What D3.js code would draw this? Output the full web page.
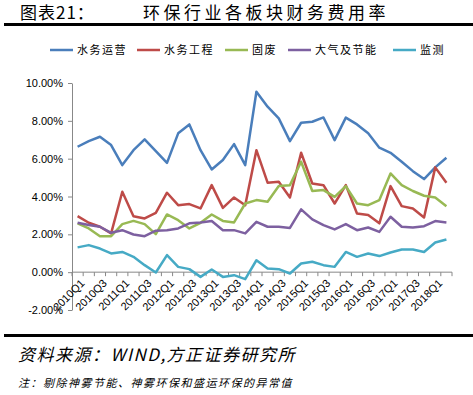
<!DOCTYPE html>
<html>
<head>
  <meta charset="utf-8">
  <title>环保行业各板块财务费用率</title>
  <style>
    body { margin: 0; background: #fff; overflow: hidden; }
    svg { display: block; }
    .cjk { font-family: "Noto Sans CJK SC", sans-serif; }
    .tick text { font-family: "Liberation Sans", Arial, sans-serif; font-size: 11px; fill: #000; }
    .tick line, .domain { stroke: #888; }
  </style>
</head>
<body>
<svg id="chart" width="473" height="395"></svg>
<script src="https://cdn.jsdelivr.net/npm/d3@7"></script>
<script>
// quarters 2010Q1 .. 2018Q2
var quarters = [];
for (var yr = 2010; yr <= 2018; yr++) {
  for (var q = 1; q <= 4; q++) {
    if (yr === 2018 && q > 2) break;
    quarters.push(yr + "Q" + q);
  }
}

var seriesNames = ["水务运营", "水务工程", "固废", "大气及节能", "监测"];
var seriesColors = ["#4a7ebb", "#be4b48", "#98b954", "#7d60a0", "#46aac5"];

// values in %
var waterOps = [6.63, 6.93, 7.16, 6.72, 5.66, 6.45, 7.02, 6.40, 5.78, 7.34, 7.81, 6.45, 5.43, 5.93, 6.77, 5.66,
                9.54, 8.75, 8.13, 6.93, 7.90, 7.95, 8.18, 6.98, 8.17, 7.81, 7.34, 6.58, 6.31, 5.84, 5.34, 4.92, 5.54, 6.05];
var waterEng = [2.96, 2.61, 2.40, 2.05, 4.25, 2.96, 2.84, 3.14, 4.20, 3.54, 3.60, 3.37, 4.60, 3.40, 3.95, 3.54,
                6.45, 4.73, 4.78, 3.95, 6.31, 4.69, 4.60, 3.63, 4.60, 3.10, 3.02, 2.58, 4.55, 3.49, 3.37, 2.89, 5.54, 4.73];
var solidWaste = [2.58, 2.31, 1.90, 1.90, 2.54, 2.71, 2.54, 2.01, 3.05, 2.75, 2.31, 2.61, 3.05, 2.71, 2.63, 3.63,
                  3.81, 3.72, 4.55, 4.60, 5.84, 4.29, 4.34, 3.98, 4.55, 3.63, 3.54, 3.81, 5.22, 4.60, 4.29, 4.04, 3.95, 3.49];
var airEnergy = [2.61, 2.49, 2.40, 2.08, 2.22, 1.99, 1.90, 2.19, 2.22, 2.31, 2.58, 2.63, 2.70, 2.22, 2.22, 2.05,
                 2.66, 2.40, 2.40, 2.34, 3.32, 2.79, 2.49, 2.26, 2.54, 2.22, 2.36, 2.13, 2.93, 2.40, 2.36, 2.43, 2.70, 2.63];
var monitoring = [1.31, 1.43, 1.25, 0.99, 1.07, 0.81, 0.37, -0.02, 0.90, 0.28, 0.16, -0.25, 0.14, -0.25, -0.16, -0.37,
                  0.63, 0.19, 0.16, -0.07, 0.46, 0.55, 0.37, 0.28, 1.07, 0.81, 0.99, 0.85, 1.04, 1.20, 1.20, 1.07, 1.57, 1.73];

var yTicks = [-2, 0, 2, 4, 6, 8, 10];
var xLabels = quarters.filter(function(d, i) { return i % 2 === 0; });

var allSeries = [waterOps, waterEng, solidWaste, airEnergy, monitoring];

var svg = d3.select("#chart");

// title and rule
svg.append("text").attr("class", "cjk")
  .attr("x", 20).attr("y", 18.5)
  .style("font-size", "17px").style("letter-spacing", "1px")
  .text("图表21：");
svg.append("text").attr("class", "cjk")
  .attr("x", 143).attr("y", 18.5)
  .style("font-size", "17px").style("letter-spacing", "3.5px")
  .text("环保行业各板块财务费用率");
svg.append("rect").attr("x", 4).attr("y", 23).attr("width", 469).attr("height", 3).attr("fill", "#000");

// scales
var x = d3.scaleBand().domain(quarters).range([72, 452]).padding(0);
var y = d3.scaleLinear().domain([-2, 10]).range([310, 83]);
var cx = function(i) { return x(quarters[i]) + x.bandwidth() / 2; };

// y axis
var yAxis = svg.append("g")
  .attr("transform", "translate(72,0)")
  .call(d3.axisLeft(y).tickValues(yTicks).tickSizeInner(4).tickSizeOuter(0)
        .tickFormat(function(d) { return d.toFixed(2) + "%"; }));
yAxis.selectAll(".tick text").attr("x", -9);

// x axis at zero, ticks on band edges
var xg = svg.append("g").attr("transform", "translate(0," + y(0) + ")");
xg.append("line").attr("class", "domain").attr("x1", 72).attr("x2", 452).attr("y1", 0).attr("y2", 0);
xg.selectAll("line.tk")
  .data(quarters.concat(["end"]))
  .enter().append("line").attr("class", "tk")
  .attr("x1", function(d, i) { return 72 + i * x.bandwidth(); })
  .attr("x2", function(d, i) { return 72 + i * x.bandwidth(); })
  .attr("y1", 0).attr("y2", 4)
  .attr("stroke", "#888");
xg.selectAll("text")
  .data(xLabels)
  .enter().append("text")
  .attr("transform", function(d) { return "translate(" + (x(d) + x.bandwidth() / 2 + 5) + ",9) rotate(-45)"; })
  .attr("text-anchor", "end")
  .attr("dy", "0.35em")
  .style("font-family", "'Liberation Sans', Arial, sans-serif")
  .style("font-size", "11px")
  .text(function(d) { return d; });

// lines
var line = d3.line()
  .x(function(d, i) { return cx(i); })
  .y(function(d) { return y(d); });

svg.append("g").selectAll("path")
  .data(allSeries)
  .enter().append("path")
  .attr("d", line)
  .attr("fill", "none")
  .attr("stroke", function(d, i) { return seriesColors[i]; })
  .attr("stroke-width", 2.5)
  .attr("stroke-linejoin", "round");

// legend
var legendX = [50, 137, 225, 288, 393];
var lg = svg.append("g").selectAll("g")
  .data(seriesNames)
  .enter().append("g")
  .attr("transform", function(d, i) { return "translate(" + legendX[i] + ",50)"; });
lg.append("line").attr("x1", 0).attr("x2", 23).attr("y1", 0).attr("y2", 0)
  .attr("stroke", function(d, i) { return seriesColors[i]; }).attr("stroke-width", 2.5);
lg.append("text").attr("class", "cjk")
  .attr("x", 27).attr("dy", "0.35em")
  .style("font-size", "11px").style("letter-spacing", "1.5px")
  .text(function(d) { return d; });

// footer
svg.append("rect").attr("x", 4).attr("y", 334).attr("width", 469).attr("height", 3).attr("fill", "#000");
svg.append("text").attr("class", "cjk")
  .attr("x", 18).attr("y", 361)
  .style("font-size", "17px").style("font-style", "italic").style("letter-spacing", "1.5px")
  .text("资料来源：WIND,方正证券研究所");
svg.append("text").attr("class", "cjk")
  .attr("x", 18).attr("y", 387)
  .style("font-size", "11px").style("font-style", "italic").style("letter-spacing", "1.5px")
  .text("注：剔除神雾节能、神雾环保和盛运环保的异常值");
</script>
</body>
</html>
